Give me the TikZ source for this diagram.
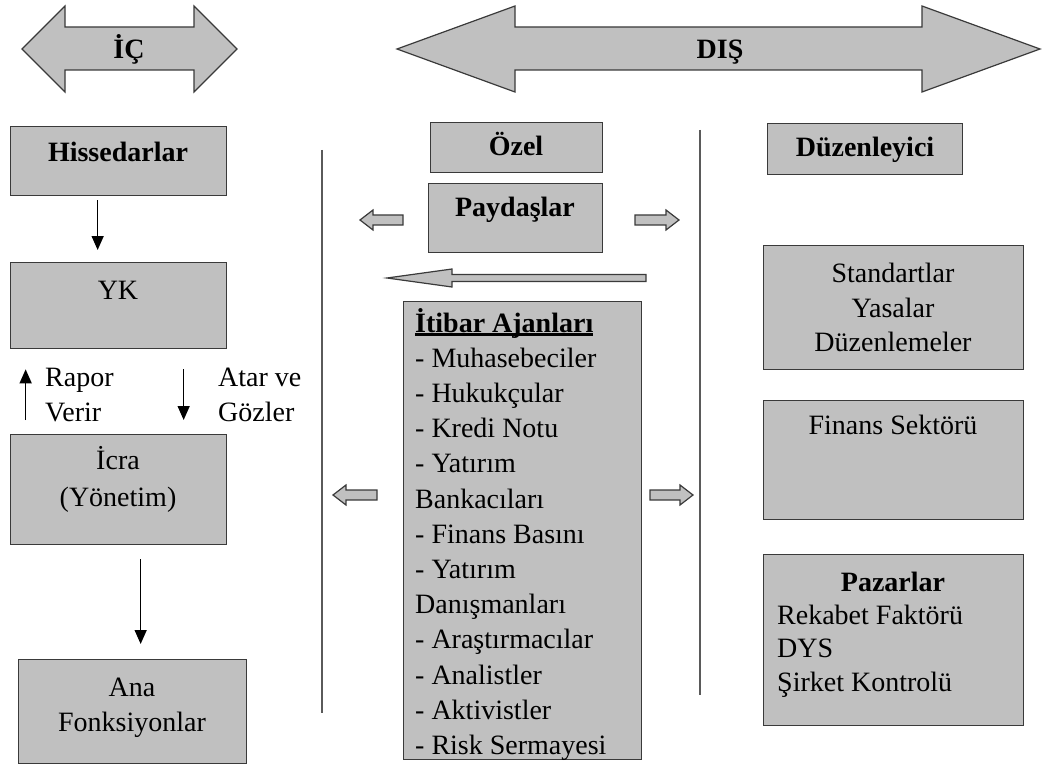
\documentclass[tikz,border=0pt]{standalone}
\usepackage{fontspec}
\setmainfont{Liberation Serif}
\usetikzlibrary{arrows.meta}
\definecolor{boxgray}{HTML}{C0C0C0}
\definecolor{edgecol}{HTML}{3A3A3A}
\definecolor{sepcol}{HTML}{5A5A5A}
\newcommand\ulbold[1]{\setbox0\hbox{\bfseries #1}\rlap{\rule[-4pt]{\wd0}{2.6pt}}\box0}
\begin{document}
\begin{tikzpicture}[x=1pt,y=-1pt,
 box/.style={draw=edgecol,fill=boxgray,line width=1.3pt,inner sep=0pt,anchor=north west},
 txt/.style={font=\fontsize{28}{35}\selectfont,inner sep=0pt},
 ttl/.style={font=\fontsize{28}{35}\selectfont\bfseries,inner sep=0pt},
 arr/.style={line width=1.4pt,-{Triangle[length=14pt,width=12pt]}},
 hollow/.style={draw=edgecol,fill=boxgray,line width=1.2pt,line join=miter},
 sepline/.style={draw=sepcol,line width=1.8pt},
 pics/harrow/.style={code={\draw[hollow] (0,-5) -- (#1-13,-5) -- (#1-13,-10) -- (#1,0) -- (#1-13,10) -- (#1-13,5) -- (0,5) -- cycle;}}
 ]
\useasboundingbox (0,0) rectangle (1045,765);

% big double arrows
\draw[hollow] (22,49) -- (65,6) -- (65,27) -- (194,27) -- (194,6) -- (237,49) -- (194,92) -- (194,70) -- (65,70) -- (65,92) -- cycle;
\node[ttl,anchor=base] (ic) at (129,59) {İÇ};
\draw[hollow] (397,49) -- (515,6) -- (515,27) -- (922,27) -- (922,6) -- (1040,49) -- (922,92) -- (922,70) -- (515,70) -- (515,92) -- cycle;
\node[ttl,anchor=base] (dis) at (720,59) {DIŞ};

% separators
\draw[sepline] (322,150) -- (322,713);
\draw[sepline] (700,130) -- (700,695);

% left column
\node[box,minimum width=216pt,minimum height=69pt] (hiss) at (10,126) {};
\node[ttl,anchor=base] (hisst) at (118,162) {Hissedarlar};
\node[box,minimum width=216pt,minimum height=86pt] (yk) at (10,262) {};
\node[txt,anchor=base] (ykt) at (118,299) {YK};
\node[box,minimum width=216pt,minimum height=110pt] (icra) at (10,434) {};
\node[txt,anchor=base] (icrat1) at (118,469) {İcra};
\node[txt,anchor=base] (icrat2) at (118,506) {(Yönetim)};
\node[box,minimum width=228pt,minimum height=104pt] (ana) at (18,659) {};
\node[txt,anchor=base] (anat1) at (132,696) {Ana};
\node[txt,anchor=base] (anat2) at (132,731) {Fonksiyonlar};

\draw[arr] ([xshift=-21pt,yshift=-4pt]hiss.south) -- ([xshift=-21pt,yshift=12pt]yk.north);
\draw[arr] ([xshift=-93pt,yshift=14pt]icra.north) -- ([xshift=-93pt,yshift=-20pt]yk.south);
\draw[arr] ([xshift=65pt,yshift=-20pt]yk.south) -- ([xshift=65pt,yshift=14pt]icra.north);
\draw[arr] ([xshift=22pt,yshift=-14pt]icra.south) -- ([xshift=8pt,yshift=15pt]ana.north);

\node[txt,anchor=base west] (rap1) at (45,386) {Rapor};
\node[txt,anchor=base west] (rap2) at (45,421) {Verir};
\node[txt,anchor=base west] (atar1) at (218,386) {Atar ve};
\node[txt,anchor=base west] (atar2) at (218,421) {Gözler};

% middle column
\node[box,minimum width=172pt,minimum height=50pt] (ozel) at (430,122) {};
\node[ttl,anchor=base] (ozelt) at (516,156) {Özel};
\node[box,minimum width=174pt,minimum height=69pt] (payd) at (428,183) {};
\node[ttl,anchor=base] (paydt) at (515,217) {Paydaşlar};
\pic[rotate=180] at (403,220) {harrow=43};
\pic at (635,220) {harrow=44};
\draw[hollow] (646,274.5) -- (452,274.5) -- (452,269) -- (387,278) -- (452,287) -- (452,281.5) -- (646,281.5) -- cycle;

\node[box,minimum width=238pt,minimum height=458pt] (itibar) at (403,301) {};
\node[txt,anchor=base west] (it0) at (415,332) {\ulbold{İtibar Ajanları}};
\foreach \t [count=\i] in {- Muhasebeciler,- Hukukçular,- Kredi Notu,- Yatırım,Bankacıları,- Finans Basını,- Yatırım,Danışmanları,- Araştırmacılar,- Analistler,- Aktivistler,- Risk Sermayesi}
  \node[txt,anchor=base west] (it\i) at (415,332+35.2*\i) {\t};
\pic[rotate=180] at (377,495) {harrow=44};
\pic at (650,495) {harrow=43};

% right column
\node[box,minimum width=195pt,minimum height=51pt] (duz) at (767,123) {};
\node[ttl,anchor=base] (duzt) at (865,157) {Düzenleyici};
\node[box,minimum width=260pt,minimum height=124pt] (std) at (763,245) {};
\node[txt,anchor=base] (std1) at (893,282) {Standartlar};
\node[txt,anchor=base] (std2) at (893,317) {Yasalar};
\node[txt,anchor=base] (std3) at (893,351) {Düzenlemeler};
\node[box,minimum width=260pt,minimum height=119pt] (fin) at (763,400) {};
\node[txt,anchor=base] (fint) at (893,434) {Finans Sektörü};
\node[box,minimum width=260pt,minimum height=171pt] (paz) at (763,554) {};
\node[ttl,anchor=base] (paz0) at (893,591) {Pazarlar};
\node[txt,anchor=base west] (paz1) at (777,624) {Rekabet Faktörü};
\node[txt,anchor=base west] (paz2) at (777,657) {DYS};
\node[txt,anchor=base west] (paz3) at (777,691) {Şirket Kontrolü};
\end{tikzpicture}
\end{document}
